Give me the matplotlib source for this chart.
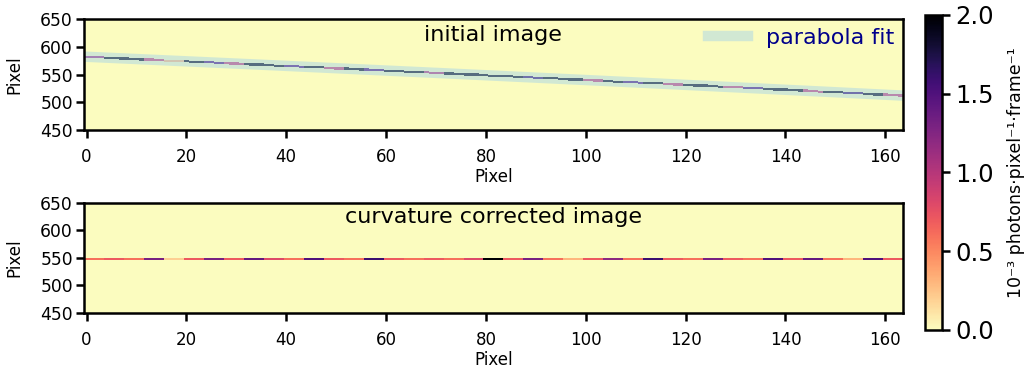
import numpy as np
import matplotlib
matplotlib.use('Agg')
import matplotlib.pyplot as plt

# trace centre (column, row)
TRACE_X = [0, 40, 80, 120, 160]
TRACE_Y = [582.0, 565.5, 548.6, 531.5, 513.5]
CORRECTED_ROW = 548

# line intensity in blocks of 4 columns (10^-3 photons/pixel/frame)
INITIAL_LINE = [1.1, 1.9, 1.9, 0.9, 0.3, 1.9, 1.5, 0.9, 1.9, 1.9,
                1.5, 1.9, 0.9, 1.9, 1.5, 1.9, 1.9, 1.0, 1.9, 1.9,
                1.9, 1.9, 1.6, 1.9, 1.9, 0.9, 1.9, 1.5, 1.9, 0.9,
                1.9, 1.9, 0.9, 1.5, 1.9, 1.9, 0.9, 1.9, 1.6, 1.9, 0.9]
CORRECTED_LINE = [0.6, 0.7, 0.6, 1.3, 0.2, 0.7, 1.3, 0.7, 1.4, 0.8,
                  0.6, 1.5, 0.7, 0.6, 1.6, 0.7, 0.6, 0.7, 0.6, 0.8,
                  2.0, 0.7, 1.3, 0.6, 0.3, 0.7, 1.2, 0.6, 1.6, 0.7,
                  0.6, 1.3, 0.7, 0.6, 1.5, 0.7, 1.4, 0.6, 0.3, 1.5, 0.7]

N_COLS = 164
ROW0, ROW1 = 450, 650

plt.rcParams['axes.linewidth'] = 1.8
plt.rcParams['xtick.major.width'] = 1.8
plt.rcParams['ytick.major.width'] = 1.8
plt.rcParams['xtick.major.size'] = 6
plt.rcParams['ytick.major.size'] = 6

coef = np.polyfit(TRACE_X, TRACE_Y, 2)
cols = np.arange(N_COLS)
fit_rows = np.polyval(coef, cols)


def make_image(rows, values):
    img = np.zeros((ROW1 - ROW0, N_COLS))
    for c in cols:
        v = values[min(c // 4, len(values) - 1)]
        r = int(round(rows[c])) - ROW0
        img[r - 2:r + 2, c] = v
    return img


img_initial = make_image(fit_rows, INITIAL_LINE)
img_corrected = make_image(np.full(N_COLS, CORRECTED_ROW), CORRECTED_LINE)

fig = plt.figure(figsize=(10.26, 3.69), dpi=100)
ax1 = fig.add_axes([0.0819, 0.6477, 0.798, 0.3008])
ax2 = fig.add_axes([0.0819, 0.1518, 0.798, 0.2981])
cax = fig.add_axes([0.9016, 0.1057, 0.0166, 0.8537])

extent = (-0.5, N_COLS - 0.5, ROW0, ROW1)
im = ax1.imshow(img_initial, cmap='magma_r', vmin=0, vmax=2, origin='lower',
                extent=extent, aspect='auto', interpolation='nearest')
ax1.plot(cols, fit_rows, color='#a8d5e8', alpha=0.5, lw=7.5,
         label='parabola fit')
ax1.text(0.5, 0.86, 'initial image', transform=ax1.transAxes,
         ha='center', va='center', fontsize=16)
leg = ax1.legend(loc='upper right', frameon=False, fontsize=16,
                 handlelength=1.8, borderaxespad=0.25, borderpad=0.15)
for t in leg.get_texts():
    t.set_color('darkblue')

ax2.imshow(img_corrected, cmap='magma_r', vmin=0, vmax=2, origin='lower',
           extent=extent, aspect='auto', interpolation='nearest')
ax2.text(0.5, 0.87, 'curvature corrected image', transform=ax2.transAxes,
         ha='center', va='center', fontsize=16)

for ax in (ax1, ax2):
    ax.set_xlim(-0.5, N_COLS - 0.5)
    ax.set_ylim(ROW0, ROW1)
    ax.set_xticks(np.arange(0, 161, 20))
    ax.set_yticks(np.arange(450, 651, 50))
    ax.tick_params(axis='x', labelsize=12, pad=7)
    ax.tick_params(axis='y', labelsize=12.3, pad=2)
    ax.set_xlabel('Pixel', fontsize=12, labelpad=1.5)
    ax.set_ylabel('Pixel', fontsize=12, labelpad=12)

cb = fig.colorbar(im, cax=cax, ticks=[0, 0.5, 1.0, 1.5, 2.0])
cb.outline.set_linewidth(1.8)
cax.tick_params(labelsize=17.5, length=6, width=1.8)
cb.set_label('10⁻³ photons·pixel⁻¹·frame⁻¹', fontsize=12.5, labelpad=9)

fig.savefig('out.png', dpi=100, facecolor='white')
